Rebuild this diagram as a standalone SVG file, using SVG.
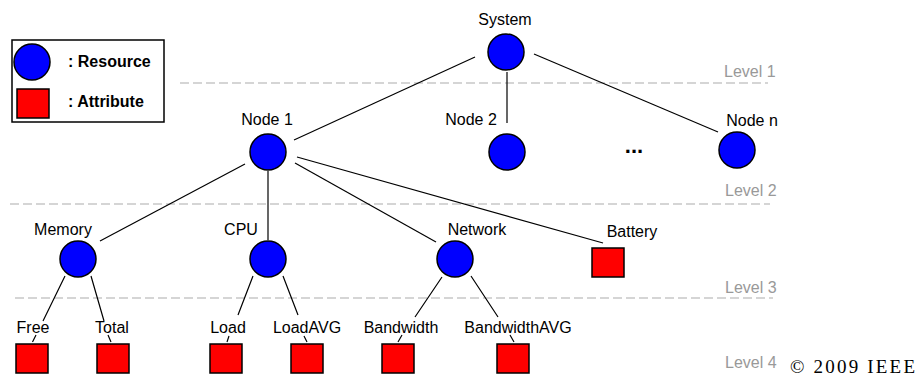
<svg xmlns="http://www.w3.org/2000/svg" width="917" height="378" viewBox="0 0 917 378">
<style>
.res{fill:#0000ff;stroke:#000;stroke-width:1.5}
.att{fill:#ff0000;stroke:#000;stroke-width:1.5}
.lbl{font-family:"Liberation Sans",Arial,sans-serif;font-size:16px;fill:#000;text-anchor:middle}
.lvl{font-family:"Liberation Sans",Arial,sans-serif;font-size:16px;fill:#999}
.leg{font-family:"Liberation Sans",Arial,sans-serif;font-size:16px;font-weight:bold;fill:#000}
.dash{stroke:#c8c8c8;stroke-width:1.5;stroke-dasharray:9,4;fill:none}
.edge{stroke:#000;stroke-width:1.2;fill:none}
</style>
<rect width="917" height="378" fill="#fff"/>
<g id="levels">
<line class="dash" x1="180" y1="83" x2="768" y2="83"/>
<line class="dash" x1="10" y1="204" x2="770" y2="204"/>
<line class="dash" x1="15" y1="298" x2="773" y2="298"/>
<text class="lvl" x="724" y="77">Level 1</text>
<text class="lvl" x="725" y="196">Level 2</text>
<text class="lvl" x="725" y="293">Level 3</text>
<text class="lvl" x="725" y="368">Level 4</text>
</g>
<g id="legend">
<rect x="12" y="40" width="152" height="82" fill="#fff" stroke="#000" stroke-width="1.5"/>
<circle class="res" cx="32" cy="62" r="18"/>
<rect class="att" x="17" y="89" width="32" height="29"/>
<text class="leg" x="68" y="67">: Resource</text>
<text class="leg" x="68" y="107">: Attribute</text>
</g>
<g id="connectors">
<line class="edge" x1="475" y1="57" x2="294" y2="140"/>
<line class="edge" x1="507" y1="72" x2="507" y2="123"/>
<line class="edge" x1="534" y1="54" x2="718" y2="132"/>
<line class="edge" x1="245" y1="164" x2="100" y2="241"/>
<line class="edge" x1="268" y1="171" x2="268" y2="240"/>
<line class="edge" x1="295" y1="163" x2="436" y2="242"/>
<line class="edge" x1="297" y1="157" x2="603" y2="243"/>
<path class="edge" d="M65 276 L43 321 M36 335 L32.5 342"/>
<path class="edge" d="M91 276 L104 321 M108 335 L111 342"/>
<path class="edge" d="M253 276 L238 315 M229 336 L227 342"/>
<path class="edge" d="M283 276 L298 315 M304 336 L307 342"/>
<path class="edge" d="M442 277 L415 317 M402 335 L398 342"/>
<path class="edge" d="M471 276 L498 317 M510 335 L514 342"/>
</g>
<g id="system"><circle class="res" cx="506" cy="52" r="18"/><text class="lbl" x="505" y="25">System</text></g>
<g id="node1"><circle class="res" cx="268" cy="152" r="18"/><text class="lbl" x="267" y="125">Node 1</text></g>
<g id="node2"><circle class="res" cx="507" cy="152" r="18"/><text class="lbl" x="471" y="125">Node 2</text></g>
<g id="ellipsis"><text x="634" y="153" style="font-family:'Liberation Sans',Arial,sans-serif;font-size:22px;font-weight:bold;text-anchor:middle">...</text></g>
<g id="noden"><circle class="res" cx="737" cy="150" r="18"/><text class="lbl" x="752" y="126">Node n</text></g>
<g id="memory"><circle class="res" cx="78" cy="259" r="18"/><text class="lbl" x="63" y="235">Memory</text></g>
<g id="cpu"><circle class="res" cx="268" cy="259" r="18"/><text class="lbl" x="241" y="235">CPU</text></g>
<g id="network"><circle class="res" cx="455" cy="259" r="18"/><text class="lbl" x="477" y="235">Network</text></g>
<g id="battery"><rect class="att" x="592" y="248" width="32" height="29"/><text class="lbl" x="632" y="237">Battery</text></g>
<g id="free"><rect class="att" x="16" y="344" width="32" height="29"/><text class="lbl" x="33" y="333">Free</text></g>
<g id="total"><rect class="att" x="97" y="344" width="32" height="29"/><text class="lbl" x="112" y="333">Total</text></g>
<g id="load"><rect class="att" x="210" y="344" width="32" height="29"/><text class="lbl" x="228" y="333">Load</text></g>
<g id="loadavg"><rect class="att" x="291" y="344" width="32" height="29"/><text class="lbl" x="307" y="333">LoadAVG</text></g>
<g id="bandwidth"><rect class="att" x="382" y="344" width="32" height="29"/><text class="lbl" x="401" y="333">Bandwidth</text></g>
<g id="bandwidthavg"><rect class="att" x="497" y="344" width="32" height="29"/><text class="lbl" x="518" y="333">BandwidthAVG</text></g>
<text x="790" y="373" textLength="125" style="font-family:'Liberation Serif','Times New Roman',serif;font-size:19px;fill:#000">© 2009 IEEE</text>
</svg>
